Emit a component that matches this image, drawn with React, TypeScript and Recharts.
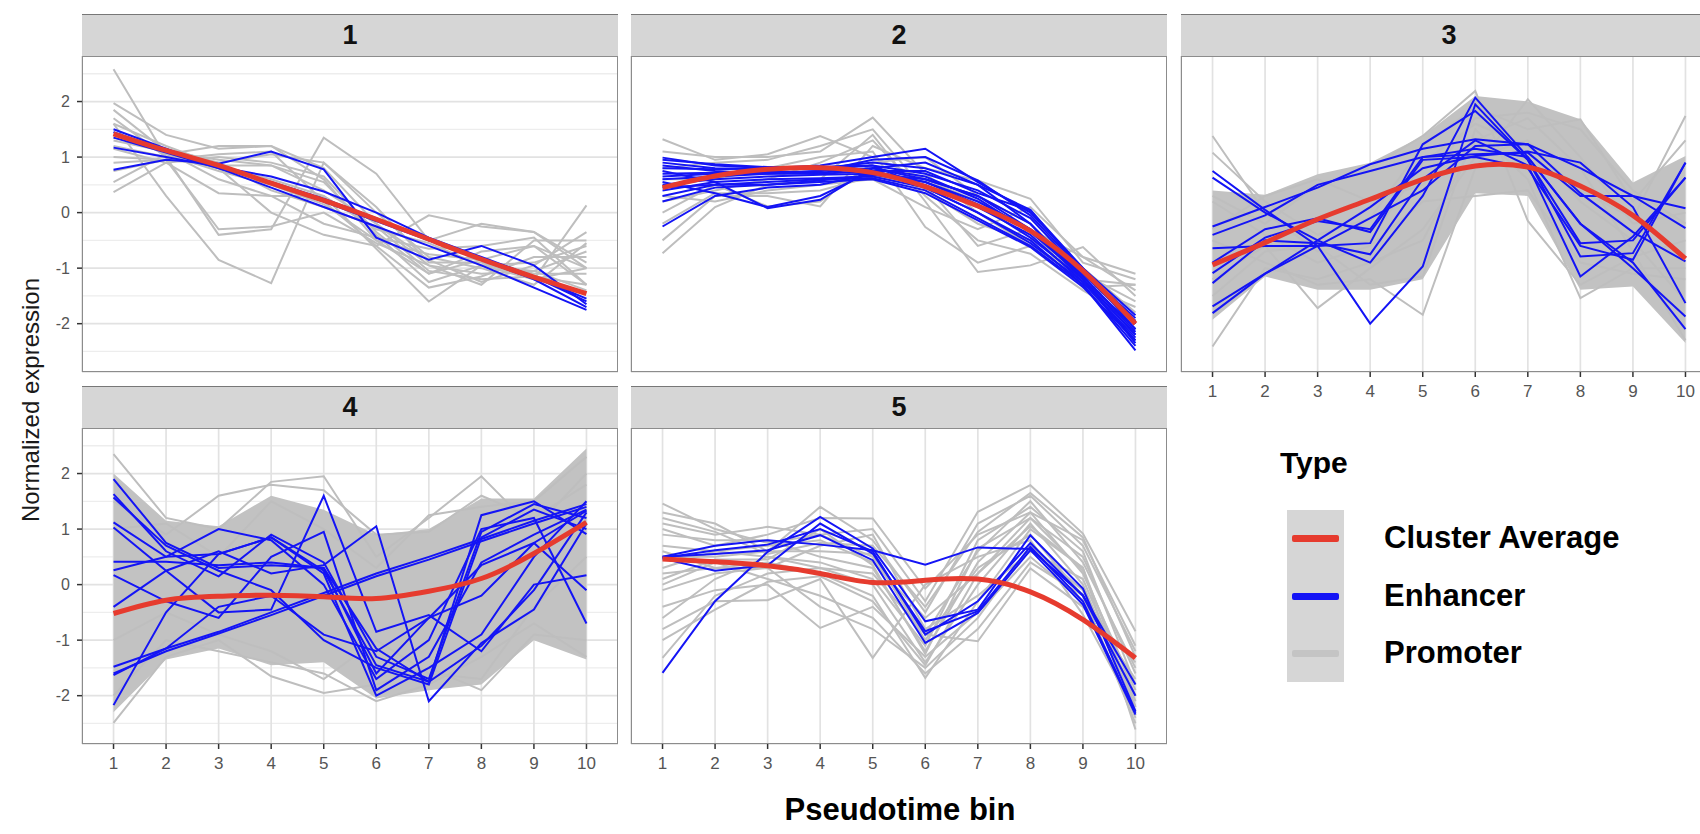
import React from 'react';
import { ComposedChart, Line, Area, XAxis, YAxis, CartesianGrid } from 'recharts';

// pseudotime bins and axis ticks
const bins = [1, 2, 3, 4, 5, 6, 7, 8, 9, 10];
const yTicks = [-2, -1, 0, 1, 2];
const yMinor = [-2.5, -1.5, -0.5, 0.5, 1.5, 2.5];
const panelTitles = ['1', '2', '3', '4', '5'];
const legendLabels = ['Cluster Average', 'Enhancer', 'Promoter'];

// cluster 1
const avg1 = [1.42, 1.12, 0.85, 0.53, 0.22, -0.12, -0.48, -0.84, -1.16, -1.46];
const enh1 = [
  [1.5, 1.15, 0.8, 0.45, 0.1, -0.25, -0.6, -0.95, -1.35, -1.75],
  [0.77, 0.95, 0.88, 1.1, 0.78, -0.45, -0.85, -0.6, -0.95, -1.65],
  [1.17, 1.0, 0.82, 0.65, 0.38, 0.0, -0.45, -0.8, -1.15, -1.6],
  [1.35, 1.08, 0.8, 0.55, 0.25, -0.1, -0.5, -0.85, -1.2, -1.7],
  [1.45, 1.12, 0.84, 0.52, 0.2, -0.15, -0.5, -0.82, -1.15, -1.55],
];
const pro1 = [
  [2.58, 1.0, 0.9, 1.05, 0.9, 0.1, -0.9, -0.9, -1.2, -1.0],
  [1.97, 1.4, 1.15, 1.2, 0.6, -0.5, -1.1, -0.7, -0.6, -1.3],
  [1.85, 1.1, 0.95, 0.85, 0.55, -0.4, -1.25, -0.95, -0.9, -0.6],
  [1.6, 0.3, -0.85, -1.27, 0.9, 0.0, -0.8, -1.0, -1.3, -0.55],
  [1.7, 1.0, -0.4, -0.3, 1.35, 0.7, -0.5, -0.2, -0.35, -1.0],
  [0.37, 0.9, 0.35, 0.3, 0.3, -0.65, -1.6, -0.95, -1.2, 0.13],
  [0.55, 1.05, 1.2, 1.2, 0.8, -0.2, -0.95, -1.3, -0.5, -0.5],
  [1.0, 0.95, 1.05, 1.1, 0.2, -0.6, -1.35, -1.15, -0.8, -0.8],
  [1.3, 1.1, 0.6, 0.3, -0.2, -0.45, -0.65, -0.6, -0.45, -1.3],
  [1.2, 1.0, 0.8, 0.0, -0.4, -0.6, -0.05, -0.25, -0.35, -0.9],
  [0.9, 0.95, -0.3, -0.25, 0.0, -0.55, -0.95, -1.1, -1.05, -0.7],
  [1.15, 0.9, 1.0, 0.9, 0.65, -0.35, -1.1, -0.85, -1.1, -1.1],
  [1.6, 1.2, 0.85, 0.6, 0.3, -0.3, -0.55, -0.95, -1.05, -1.4],
  [1.45, 1.05, 0.75, 0.5, 0.15, -0.5, -0.75, -0.85, -0.6, -1.0],
  [0.75, 0.95, 0.85, 0.85, 0.4, -0.2, -0.85, -1.25, -0.95, -0.35],
  [1.35, 1.15, 0.9, 0.4, 0.1, -0.25, -1.05, -1.2, -1.15, -1.3],
];

// cluster 2
const avg2 = [0.45, 0.66, 0.78, 0.81, 0.72, 0.47, 0.12, -0.33, -1.05, -2.0];
const enh2 = [
  [0.99, 0.85, 0.8, 0.85, 1.0, 1.15, 0.55, 0.0, -1.0, -1.85],
  [0.9, 0.8, 0.78, 0.8, 0.9, 0.8, 0.5, 0.05, -1.05, -1.9],
  [0.8, 0.78, 0.8, 0.78, 0.85, 0.7, 0.4, -0.1, -1.1, -2.0],
  [0.7, 0.72, 0.75, 0.72, 0.8, 0.6, 0.3, -0.2, -1.15, -2.1],
  [0.6, 0.65, 0.7, 0.7, 0.75, 0.55, 0.2, -0.3, -1.2, -2.2],
  [0.5, 0.6, 0.65, 0.68, 0.7, 0.5, 0.1, -0.4, -1.25, -2.3],
  [0.4, 0.55, 0.6, 0.62, 0.65, 0.45, 0.0, -0.5, -1.3, -2.4],
  [0.3, 0.5, 0.55, 0.6, 0.62, 0.4, -0.1, -0.6, -1.3, -2.48],
  [0.2, 0.45, 0.5, 0.55, 0.6, 0.35, -0.14, -0.62, -1.34, -2.3],
  [-0.25, 0.3, 0.45, 0.5, 0.7, 0.6, 0.3, -0.3, -1.1, -2.0],
  [0.75, 0.55, 0.08, 0.23, 0.8, 0.9, 0.5, -0.2, -1.2, -2.2],
  [0.55, 0.35, 0.1, 0.3, 0.75, 0.75, 0.35, 0.04, -1.0, -2.1],
  [0.85, 0.75, 0.7, 0.75, 0.95, 1.0, 0.58, -0.05, -1.05, -1.95],
  [0.65, 0.7, 0.72, 0.75, 0.8, 0.65, 0.25, -0.35, -1.15, -2.15],
  [0.45, 0.5, 0.5, 0.58, 0.68, 0.55, 0.15, -0.45, -1.2, -2.35],
  [0.95, 0.87, 0.82, 0.82, 0.85, 0.45, 0.0, -0.55, -1.25, -2.25],
];
const pro2 = [
  [1.32, 0.95, 1.05, 1.38, 1.0, 0.6, 0.2, -0.3, -0.8, -1.1],
  [1.1, 1.0, 1.0, 1.1, 1.71, 0.7, 0.0, -0.6, -1.2, -1.3],
  [-0.73, 0.1, 0.5, 0.6, 1.4, 0.2, -1.07, -0.95, -0.62, -1.5],
  [-0.5, 0.3, 0.3, 0.11, 1.2, 0.8, 0.58, 0.25, -0.9, -1.2],
  [0.2, 0.4, 0.6, 0.9, 1.3, 0.3, -0.5, -0.74, -1.4, -1.94],
  [0.0, 0.5, 0.11, 0.2, 0.9, 1.0, 0.3, -0.2, -1.3, -1.7],
  [0.6, 0.6, 0.8, 1.0, 1.1, -0.26, -0.9, -0.6, -1.1, -1.6],
  [0.3, 0.2, 0.4, 0.5, 0.6, 0.1, -0.3, 0.1, -0.8, -1.4],
  [0.8, 0.9, 0.95, 1.2, 1.5, 0.4, -0.2, -0.5, -1.0, -1.8],
  [-0.2, 0.35, 0.35, 0.4, 0.65, 0.5, -0.6, -0.3, -1.35, -1.3],
];

// cluster 3
const avg3 = [-0.94, -0.54, -0.12, 0.24, 0.6, 0.84, 0.82, 0.48, -0.05, -0.83];
const enh3 = [
  [0.75, 0.05, -0.6, -2.0, -0.97, 1.95, 0.95, -0.55, -0.5, 0.63],
  [0.63, 0.0, -0.5, -0.9, 0.3, 2.07, 1.0, -0.2, -1.0, -1.87],
  [-0.25, 0.1, 0.45, 0.87, 1.15, 1.32, 1.23, 0.8, 0.3, 0.08],
  [-0.4, -0.05, 0.5, 0.75, 1.0, 1.05, 1.08, 0.3, 0.3, -0.28],
  [-0.64, -0.6, -0.6, -0.55, 1.23, 1.83, 0.95, -0.79, -0.73, 0.9],
  [-1.09, -0.45, -0.15, -0.3, 1.0, 1.15, 1.0, -0.2, -0.9, -2.1],
  [-1.27, -0.5, -0.55, -0.75, 0.6, 1.3, 0.85, -1.15, -0.43, 0.63],
  [-1.69, -1.1, -0.5, 0.1, 0.8, 1.02, 1.1, 0.9, 0.1, -1.63],
  [-1.81, -1.1, -0.6, -0.1, 0.4, 1.2, 1.23, 0.35, -0.35, -0.88],
  [-0.9, -0.3, -0.1, -0.35, 0.95, 1.0, 0.8, -0.6, -0.85, 0.9],
];
const pro3 = [
  [1.38, 0.0, -0.7, -0.5, 0.9, 1.6, 1.2, 0.4, -0.1, 1.74],
  [1.08, 0.2, -0.4, -0.1, 1.2, 1.9, 1.5, 1.68, 0.2, 1.3],
  [-2.41, -1.0, -1.2, -0.9, -0.5, 1.3, 1.7, 0.8, -0.7, -2.3],
  [-1.2, -0.6, -1.72, -1.0, -0.3, 1.0, 1.3, 0.2, -0.5, -1.6],
  [-0.5, -0.9, -1.3, -1.2, -1.84, 0.8, 2.04, 1.0, -0.2, 0.0],
  [-1.5, -0.7, -0.6, -1.3, -1.15, 1.5, 0.6, -1.54, -1.0, -1.0],
  [0.3, -0.2, 0.5, 0.8, 1.38, 2.19, -0.15, -1.3, -0.8, -0.5],
  [-0.3, 0.3, 0.6, 0.2, 0.5, 1.7, 1.8, 1.5, 0.4, -0.2],
  [0.2, -0.4, -0.9, -0.6, 0.2, 0.3, 0.4, -0.9, -1.1, -1.2],
];
const band3Low = [-1.93, -1.15, -1.39, -1.39, -1.2, 0.35, 0.3, -1.39, -1.33, -2.35];
const band3High = [0.4, 0.32, 0.69, 0.9, 1.38, 2.1, 2.0, 1.68, 0.54, 1.02];

// cluster 4
const avg4 = [-0.52, -0.28, -0.21, -0.19, -0.22, -0.25, -0.12, 0.11, 0.56, 1.12];
const enh4 = [
  [-1.48, -1.15, -0.85, -0.5, -0.15, 0.2, 0.5, 0.82, 1.15, 1.45],
  [-1.6, -1.2, -0.88, -0.55, -0.2, 0.15, 0.45, 0.78, 1.1, 1.4],
  [1.9, 0.75, 0.3, 0.35, 0.3, -1.15, -1.75, -1.1, -0.1, 1.3],
  [1.63, 0.6, 0.15, 0.9, 0.4, -1.3, -1.7, 0.95, 1.45, 1.2],
  [1.57, 0.7, 0.25, -0.1, -1.0, -1.5, -1.8, 0.85, 1.35, 1.0],
  [1.12, 0.5, 0.55, 0.85, 0.2, -2.0, -1.5, -0.9, 0.5, 1.5],
  [1.03, 0.25, -0.5, -0.45, 1.6, -0.85, -0.55, -1.2, 0.0, 0.17],
  [0.41, 0.41, 0.35, 0.4, 0.3, -1.6, -0.6, 0.35, 0.75, -0.1],
  [0.26, 0.5, 1.0, 0.8, 0.0, -1.7, -1.0, 1.0, 1.2, -0.7],
  [0.17, -0.3, -0.6, 0.5, 0.95, -1.9, -1.3, 0.4, 0.9, 1.35],
  [-0.4, 0.25, 0.6, 0.2, 0.35, 1.05, -2.1, -1.05, -0.45, 1.1],
  [-2.17, -0.5, 0.55, 0.85, 0.25, -1.45, -1.75, 1.25, 1.5, 0.91],
  [-1.63, -1.15, -0.4, -0.2, -0.9, -1.2, -0.6, -0.2, 0.75, 1.33],
];
const pro4 = [
  [2.35, 1.2, 1.0, 1.85, 1.95, 0.5, 1.2, 1.95, 1.0, 2.0],
  [1.5, 0.9, 1.6, 1.8, 1.7, 0.9, 0.95, 1.6, 1.2, 1.8],
  [-2.49, -1.3, -1.0, -1.65, -1.95, -1.8, -1.5, -1.9, -0.9, -1.0],
  [-2.0, -1.0, -1.2, -1.4, -1.6, -2.1, -1.8, -1.3, -0.7, -1.3],
  [1.0, 1.1, 0.5, 1.5, 1.0, 0.3, 1.25, 1.4, 1.5, 2.3],
  [-1.0, -0.5, -0.9, -1.2, -1.7, -1.0, -1.6, -1.7, -0.4, 0.5],
];
const band4Low = [-2.3, -1.35, -1.15, -1.45, -1.4, -2.05, -1.9, -1.8, -1.0, -1.35];
const band4High = [2.0, 1.15, 1.05, 1.6, 1.35, 0.9, 1.0, 1.55, 1.55, 2.45];

// cluster 5
const avg5 = [0.46, 0.41, 0.34, 0.2, 0.04, 0.08, 0.1, -0.13, -0.63, -1.32];
const enh5 = [
  [0.5, 0.7, 0.8, 0.72, 0.62, 0.36, 0.67, 0.64, -0.19, -1.8],
  [-1.59, -0.3, 0.59, 1.22, 0.65, -0.66, -0.45, 0.89, -0.07, -2.28],
  [0.47, 0.25, 0.35, 1.1, 0.56, -0.84, -0.48, 0.68, -0.3, -2.31],
  [0.5, 0.55, 0.62, 0.89, 0.44, -1.05, -0.51, 0.62, -0.36, -2.34],
  [0.48, 0.62, 0.72, 1.0, 0.6, -0.9, -0.3, 0.75, -0.2, -2.0],
];
const pro5 = [
  [1.46, 1.0, 0.75, 0.9, 1.0, -0.3, 1.31, 1.79, 0.92, -0.84],
  [1.3, 1.1, 0.6, 1.4, 0.8, -0.5, 1.1, 1.6, 0.7, -1.2],
  [1.1, 0.9, 1.04, 0.9, 0.5, -0.9, 0.6, 1.5, 0.4, -1.5],
  [0.9, 0.8, 0.8, 0.5, 0.3, -1.2, 0.4, 1.3, 0.2, -1.9],
  [0.7, 0.6, 0.5, 0.3, 0.0, -1.4, 0.0, 1.1, 0.0, -2.2],
  [0.5, 0.5, 0.6, 0.6, 0.55, -1.0, 0.3, 0.9, -0.2, -2.4],
  [0.2, 0.3, 0.4, 0.2, -0.2, -1.68, -0.3, 1.0, 0.3, -2.61],
  [-0.1, 0.2, 0.3, -0.4, -0.8, -1.5, -0.6, 0.7, -0.1, -2.0],
  [-0.4, -0.1, 0.0, -0.78, -0.4, -1.3, -0.5, 0.5, -0.3, -1.7],
  [-0.8, -0.3, -0.28, 0.1, -1.32, 0.0, 0.5, 0.8, -0.54, -2.3],
  [-1.32, -0.2, 0.2, 0.3, 0.2, -0.9, -1.02, 0.29, -0.4, -1.4],
  [1.0, 0.7, 0.9, 1.2, 1.19, -0.07, 0.9, 1.3, 0.8, -1.1],
  [0.3, 0.6, 0.7, 0.8, 0.4, -0.6, 0.2, 1.2, 0.5, -1.6],
  [-0.6, 0.1, 0.5, 0.4, 0.1, -1.1, 0.8, 1.4, 0.6, -1.8],
  [0.0, 0.4, 0.1, -0.2, -0.6, -1.6, -0.8, 0.4, -0.2, -2.5],
  [0.6, 0.3, 0.3, 0.7, 0.9, -0.8, -0.2, 0.6, 0.1, -2.1],
  [1.2, 0.95, 0.55, 0.75, 0.7, -0.4, 0.95, 1.65, 0.85, -1.3],
  [-1.0, -0.45, 0.05, 0.15, -0.3, -1.45, 0.2, 1.05, 0.3, -2.2],
  [0.1, 0.45, 0.45, 1.0, 0.35, -1.25, 0.65, 1.2, 0.25, -2.0],
];

const RED = '#E63B2E';
const BLUE = '#1414F5';
const GREY = '#BEBEBE';
const FONT = '"Liberation Sans", Arial, Helvetica, sans-serif';

const PW = 536;
const PH = 316;
const AXW = 50;
const AXH = 40;
const STRIP = 42;

type PanelProps = {
  title: string;
  left: number;
  top: number;
  avg: number[];
  enh: number[][];
  pro: number[][];
  band?: [number[], number[]];
  showX?: boolean;
  showY?: boolean;
};

const Panel = ({ title, left, top, avg, enh, pro, band, showX, showY }: PanelProps) => {
  const rows = bins.map((x, i) => {
    const r: Record<string, unknown> = { x, avg: avg[i] };
    if (band) r.band = [band[0][i], band[1][i]];
    enh.forEach((s, j) => { r['e' + j] = s[i]; });
    pro.forEach((s, j) => { r['p' + j] = s[i]; });
    return r;
  });

  return (
    <>
      <div
        style={{
          position: 'absolute', left, top: top - STRIP, width: PW, height: STRIP,
          background: '#D6D6D6', borderTop: '1px solid #777', boxSizing: 'border-box',
          display: 'flex', alignItems: 'center', justifyContent: 'center',
          fontFamily: FONT, fontWeight: 'bold', fontSize: 27, color: '#111',
        }}
      >
        {title}
      </div>
      <div style={{ position: 'absolute', left: left - AXW, top }}>
        <ComposedChart width={PW + AXW} height={PH + AXH} data={rows} margin={{ top: 0, right: 0, bottom: 0, left: 0 }}>
          <CartesianGrid horizontalValues={yMinor} vertical={false} stroke="#EDEDED" strokeWidth={1.3} />
          <CartesianGrid stroke="#E2E2E2" strokeWidth={1.7} />
          <XAxis
            dataKey="x"
            type="number"
            domain={[0.4, 10.6]}
            ticks={bins}
            interval={0}
            allowDataOverflow
            height={AXH}
            axisLine={false}
            tickSize={5}
            tickMargin={8}
            tick={showX ? { fill: '#555', fontSize: 17, fontFamily: FONT } : false}
            tickLine={showX ? { stroke: '#333', strokeWidth: 1.5 } : false}
          />
          <YAxis
            type="number"
            domain={[-2.87, 2.82]}
            ticks={yTicks}
            interval={0}
            allowDataOverflow
            width={AXW}
            axisLine={false}
            tickSize={5}
            tickMargin={7}
            tick={showY ? { fill: '#555', fontSize: 16, fontFamily: FONT } : false}
            tickLine={showY ? { stroke: '#333', strokeWidth: 1.5 } : false}
          />
          {band && (
            <Area dataKey="band" type="linear" stroke="none" fill="#C2C2C2" fillOpacity={1} isAnimationActive={false} />
          )}
          {pro.map((_, j) => (
            <Line key={'p' + j} dataKey={'p' + j} type="linear" stroke={GREY} strokeWidth={2} dot={false} isAnimationActive={false} />
          ))}
          {enh.map((_, j) => (
            <Line key={'e' + j} dataKey={'e' + j} type="linear" stroke={BLUE} strokeWidth={2} dot={false} isAnimationActive={false} />
          ))}
          <Line dataKey="avg" type="natural" stroke={RED} strokeWidth={5} dot={false} isAnimationActive={false} />
        </ComposedChart>
      </div>
      <div
        style={{
          position: 'absolute', left, top, width: PW, height: PH,
          border: '1.5px solid #8C8C8C', boxSizing: 'border-box', pointerEvents: 'none',
        }}
      />
    </>
  );
};

const App = () => {
  const legendColors = [RED, BLUE, '#C4C4C4'];
  const legendY = [538, 596, 653];
  return (
    <div style={{ position: 'absolute', left: 0, top: 0, width: 1700, height: 834, overflow: 'hidden', background: '#fff', fontFamily: FONT }}>
      <Panel title={panelTitles[0]} left={82} top={56} avg={avg1} enh={enh1} pro={pro1} showY />
      <Panel title={panelTitles[1]} left={631} top={56} avg={avg2} enh={enh2} pro={pro2} />
      <Panel title={panelTitles[2]} left={1181} top={56} avg={avg3} enh={enh3} pro={pro3} band={[band3Low, band3High]} showX />
      <Panel title={panelTitles[3]} left={82} top={428} avg={avg4} enh={enh4} pro={pro4} band={[band4Low, band4High]} showX showY />
      <Panel title={panelTitles[4]} left={631} top={428} avg={avg5} enh={enh5} pro={pro5} showX />

      {/* axis titles */}
      <div
        style={{
          position: 'absolute', left: 31, top: 400, transform: 'translate(-50%, -50%) rotate(-90deg)',
          whiteSpace: 'nowrap', fontSize: 24, color: '#1a1a1a',
        }}
      >
        Normalized expression
      </div>
      <div
        style={{
          position: 'absolute', left: 900, top: 810, transform: 'translate(-50%, -50%)',
          whiteSpace: 'nowrap', fontSize: 31, fontWeight: 'bold', color: '#000',
        }}
      >
        Pseudotime bin
      </div>

      {/* legend */}
      <div style={{ position: 'absolute', left: 1280, top: 463, transform: 'translateY(-50%)', fontSize: 30, fontWeight: 'bold', color: '#000' }}>
        Type
      </div>
      <div style={{ position: 'absolute', left: 1287, top: 510, width: 57, height: 172, background: '#D6D6D6' }} />
      {legendLabels.map((label, i) => (
        <React.Fragment key={label}>
          <div style={{ position: 'absolute', left: 1292, top: legendY[i] - 3.5, width: 47, height: 7, borderRadius: 2, background: legendColors[i] }} />
          <div style={{ position: 'absolute', left: 1384, top: legendY[i], transform: 'translateY(-50%)', fontSize: 31, fontWeight: 'bold', color: '#000', whiteSpace: 'nowrap' }}>
            {label}
          </div>
        </React.Fragment>
      ))}
    </div>
  );
};

export default App;
